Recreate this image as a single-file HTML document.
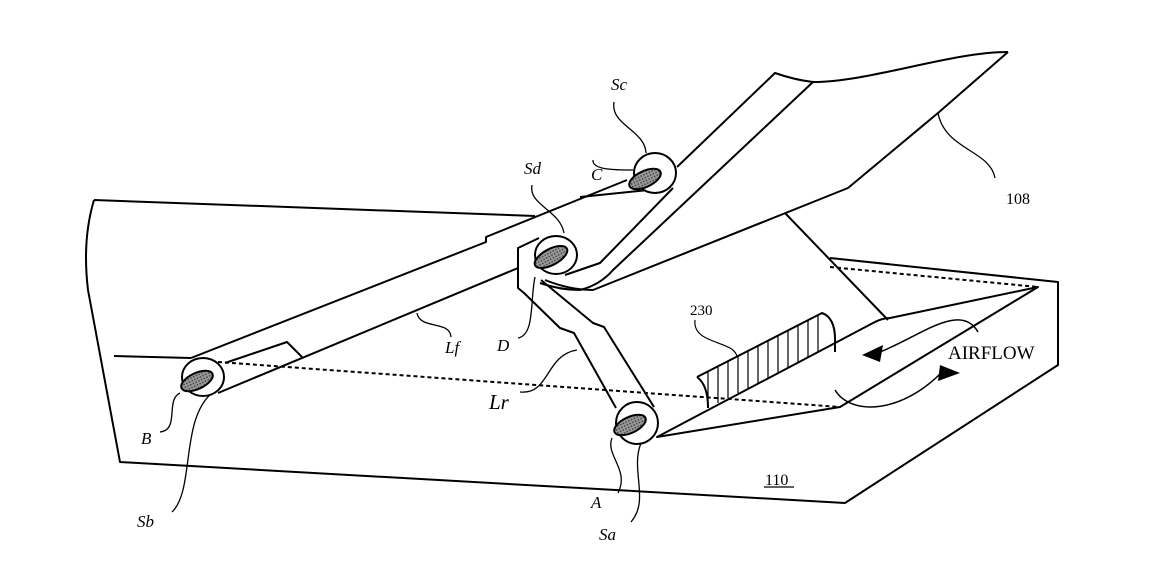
<!DOCTYPE html>
<html><head><meta charset="utf-8"><style>
html,body{margin:0;padding:0;background:#fff}
svg{display:block}
text{font-family:"Liberation Serif",serif;fill:#000}
.i{font-style:italic;font-size:17px}
</style></head><body>
<svg width="1165" height="564" viewBox="0 0 1165 564" xmlns="http://www.w3.org/2000/svg">
<defs>
<pattern id="dots" width="3" height="3" patternUnits="userSpaceOnUse"><rect width="3" height="3" fill="#999"/><rect width="1.5" height="1.5" fill="#444"/></pattern>
</defs>
<g fill="none" stroke="#000" stroke-width="2" stroke-linejoin="round">
<path d="M94,200 Q82,240 88,290 L120,462 L845,503 L1058,365 L1058,282 L830,258"/>
<path d="M94,200 L535,216"/>
<path d="M114,356 L191,358"/>
<path d="M191,358 L486,242 L486,237 L627,180"/>
<path d="M218,393 L518,268"/>
<path d="M225,363 L287,342 L302,357"/>
<path d="M580,197 L668,188"/>
<path d="M673,188 L600,263 L565,275"/>
<path d="M677,167 L775,73 Q795,80 813,82 C870,82 950,52 1008,52"/>
<path d="M813,82 L613,270 Q600,285 580,290 Q560,290 540,283"/>
<path d="M1008,52 L938,113 L848,188 L593,290 Q570,290 545,280"/>
<path d="M785,213 L888,320"/>
<path stroke-width="1.3" d="M938,113 C945,150 990,150 995,178"/>
<path d="M657,437 L873,323 Q882,318 890,318 L1038,287 L840,407 Z"/>
<path stroke-dasharray="4,3" d="M830,267 L1038,287"/>
<path stroke-dasharray="4,3" d="M218,362 L840,407"/>
<path d="M697,377 L822,313 Q836,318 835,343 L835,352 M697,377 Q708,385 708,408"/>
<g stroke-width="1.2">
<path d="M708,371 L708,408 M718,366 L718,403 M728,361 L728,398 M738,356 L738,393 M748,351 L748,388 M758,346 L758,383 M768,340 L768,378 M778,335 L778,373 M788,330 L788,367 M798,325 L798,362 M808,320 L808,357 M818,315 L818,352"/>
<path d="M695,320 C692,345 735,340 737,357"/>
</g>
<path stroke-width="1.5" d="M978,332 C960,300 915,340 877,353"/>
<path stroke-width="1.5" d="M835,390 C850,415 900,415 942,372"/>
<path d="M539,238 L518,248 L518,288 L524,293 L560,328 L574,333 L616,408"/>
<path d="M541,280 L593,323 L604,327 L654,407"/>
<g stroke-width="1.3">
<path d="M614,102 C610,125 645,130 646,153"/>
<path d="M593,160 C592,170 615,170 633,170"/>
<path d="M532,185 C528,205 560,210 564,233"/>
<path d="M518,338 C535,335 530,300 535,277"/>
<path d="M417,313 C420,330 450,320 451,337"/>
<path d="M520,392 C550,395 545,355 577,350"/>
<path d="M160,432 C180,430 165,400 180,393"/>
<path d="M172,512 C195,490 180,420 212,393"/>
<path d="M618,493 C630,470 605,455 612,438"/>
<path d="M631,522 C650,500 630,470 641,443"/>
</g>
</g>
<polygon points="862,355 883,345 880,362" fill="#000"/>
<polygon points="960,373 940,365 938,381" fill="#000"/>
<g stroke="#000" stroke-width="2">
<ellipse cx="655" cy="173" rx="21" ry="20" fill="#fff"/>
<ellipse cx="645" cy="179" rx="17" ry="8" transform="rotate(-25 645 179)" fill="url(#dots)"/>
<ellipse cx="556" cy="255" rx="21" ry="19" fill="#fff"/>
<ellipse cx="551" cy="257" rx="18" ry="8" transform="rotate(-28 551 257)" fill="url(#dots)"/>
<ellipse cx="203" cy="377" rx="21" ry="19" fill="#fff"/>
<ellipse cx="197" cy="381" rx="17" ry="8" transform="rotate(-25 197 381)" fill="url(#dots)"/>
<ellipse cx="637" cy="423" rx="21" ry="21" fill="#fff"/>
<ellipse cx="630" cy="425" rx="17" ry="8" transform="rotate(-25 630 425)" fill="url(#dots)"/>
</g>
<text class="i" x="611" y="90">Sc</text>
<text class="i" x="591" y="180">C</text>
<text class="i" x="524" y="174">Sd</text>
<text class="i" x="497" y="351">D</text>
<text class="i" x="445" y="353">Lf</text>
<text class="i" x="489" y="409" style="font-size:21px">Lr</text>
<text class="i" x="141" y="444">B</text>
<text class="i" x="137" y="527">Sb</text>
<text class="i" x="591" y="508">A</text>
<text class="i" x="599" y="540">Sa</text>
<text x="1006" y="204" style="font-size:16px">108</text>
<text x="690" y="315" style="font-size:15px">230</text>
<text x="765" y="485" style="font-size:16px">110</text>
<line x1="764" y1="487" x2="794" y2="487" stroke="#000" stroke-width="1.2"/>
<text x="948" y="359" style="font-size:19px">AIRFLOW</text>
</svg>
</body></html>
